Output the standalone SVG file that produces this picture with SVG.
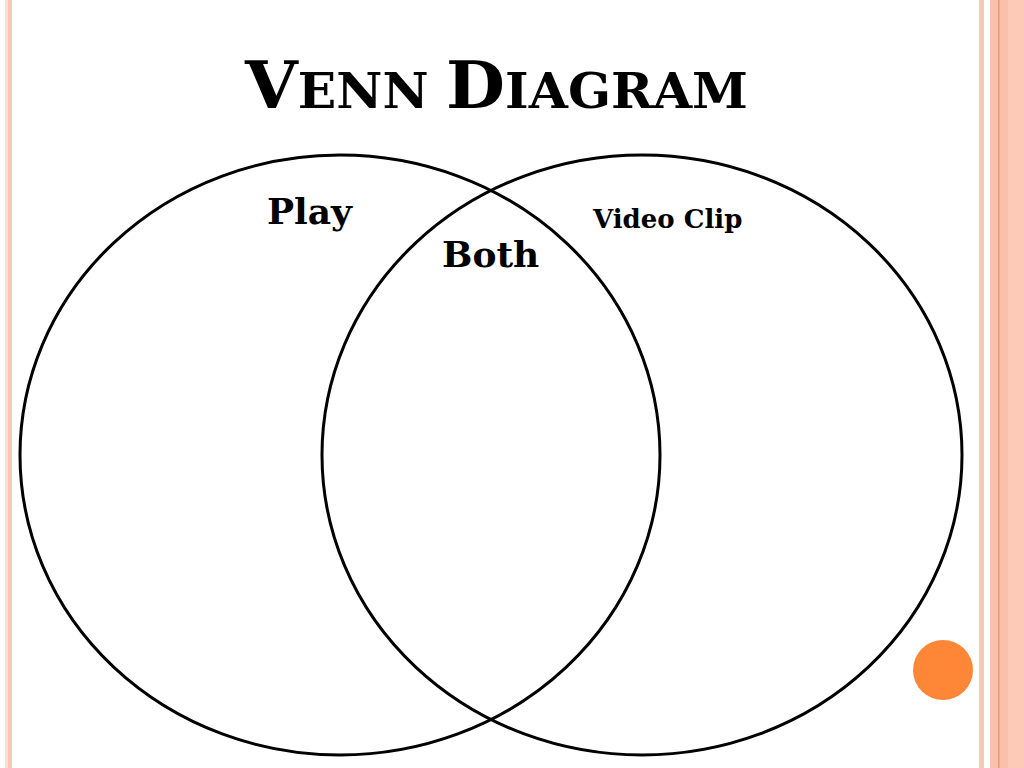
<svg xmlns="http://www.w3.org/2000/svg" width="1024" height="768" viewBox="0 0 1024 768">
<style>
.lbl{font-family:"DejaVu Serif","Liberation Serif",serif;font-weight:bold;fill:#000}
.ring{fill:none;stroke:#000;stroke-width:3}
</style>
<rect width="1024" height="768" fill="#fff"/>
<g id="borders">
<rect x="5" y="0" width="3" height="768" fill="#f8e2d6"/>
<rect x="8" y="0" width="4" height="768" fill="#fcc6b6"/>
<rect x="979" y="0" width="5" height="768" fill="#fcc6b6"/>
<rect x="990" y="0" width="18" height="768" fill="#fbc0ac"/>
<rect x="998" y="0" width="1.5" height="768" fill="#e69a7c"/>
<rect x="1008" y="0" width="16" height="768" fill="#fdcab8"/>
</g>
<g id="title">
<text class="lbl" x="245" y="108" textLength="503" lengthAdjust="spacingAndGlyphs"><tspan font-size="66">V</tspan><tspan font-size="49">ENN </tspan><tspan font-size="66">D</tspan><tspan font-size="49">IAGRAM</tspan></text>
</g>
<g id="play-circle">
<ellipse class="ring" cx="340" cy="455" rx="320" ry="300"/>
<text class="lbl" x="267" y="224" font-size="36">Play</text>
</g>
<g id="video-circle">
<ellipse class="ring" cx="642" cy="455" rx="320" ry="300"/>
<text class="lbl" x="593" y="228" font-size="26">Video Clip</text>
</g>
<g id="both">
<text class="lbl" x="442" y="267" font-size="36">Both</text>
</g>
<circle id="dot" cx="943" cy="670" r="30" fill="#fd8637"/>
</svg>
